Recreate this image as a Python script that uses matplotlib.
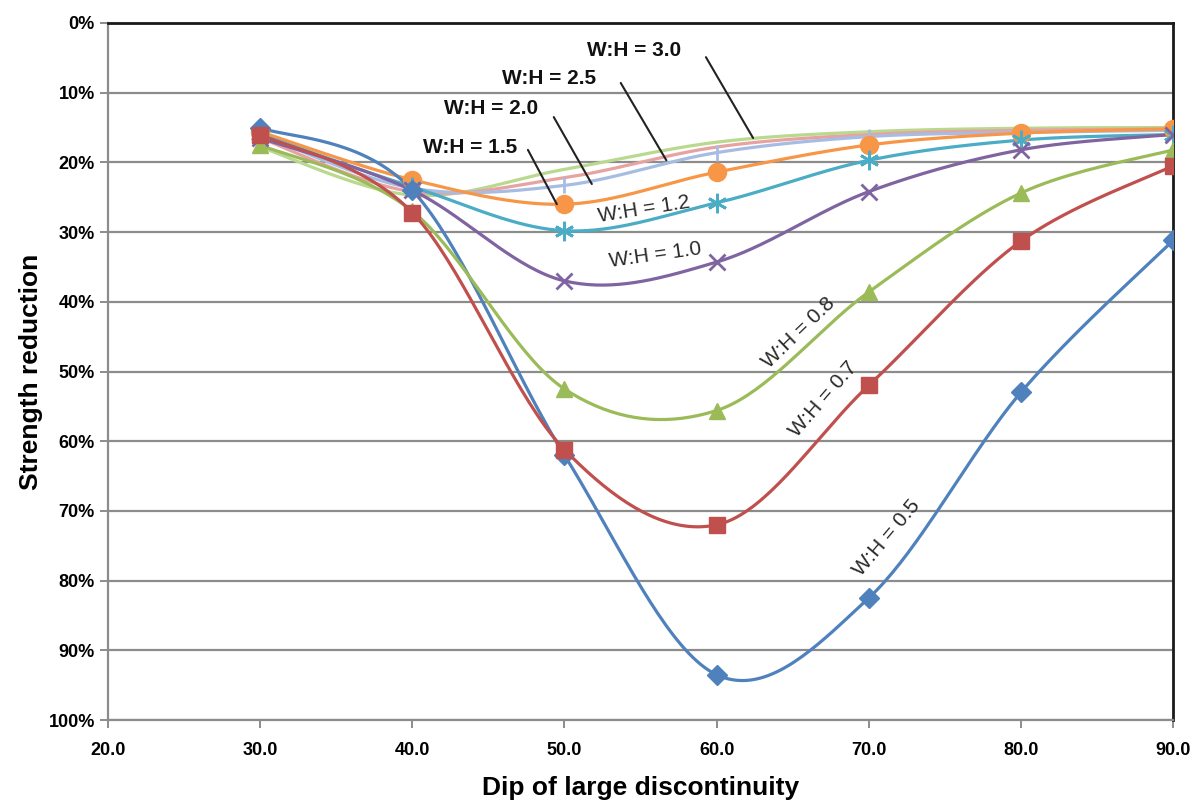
import numpy as np
import matplotlib
matplotlib.use("Agg")
import matplotlib.pyplot as plt
from matplotlib import font_manager

dips = [30, 40, 50, 60, 70, 80, 90]
wh_05 = [15.0, 24.0, 62.0, 93.5, 82.5, 53.0, 31.2]
wh_07 = [16.0, 27.2, 61.2, 72.0, 52.0, 31.3, 20.5]
wh_08 = [17.5, 27.0, 52.5, 55.6, 38.6, 24.4, 18.2]
wh_10 = [16.5, 24.0, 37.0, 34.3, 24.2, 18.2, 16.0]
wh_12 = [16.0, 23.5, 29.8, 25.8, 19.7, 16.8, 16.0]
wh_15 = [15.6, 22.5, 26.0, 21.4, 17.5, 15.8, 15.2]
wh_20 = [16.0, 23.7, 23.3, 18.6, 16.3, 15.7, 15.4]
wh_25 = [16.5, 24.2, 22.2, 17.8, 16.0, 15.4, 15.2]
wh_30 = [17.8, 24.7, 21.0, 17.1, 15.6, 15.1, 15.0]

y_ticks = [0, 10, 20, 30, 40, 50, 60, 70, 80, 90, 100]
x_ticks = [20, 30, 40, 50, 60, 70, 80, 90]

names = [f.name for f in font_manager.fontManager.ttflist]
fam = "Liberation Sans Narrow" if "Liberation Sans Narrow" in names else "Liberation Sans"
plt.rcParams['font.family'] = [fam, 'DejaVu Sans']

def smooth(xs, ys, n=40):
    xs = np.asarray(xs, float); ys = np.asarray(ys, float)
    P = np.column_stack([xs, ys])
    out = []
    for i in range(len(P) - 1):
        p0 = P[i - 1] if i > 0 else P[i]
        p1 = P[i]; p2 = P[i + 1]
        p3 = P[i + 2] if i + 2 < len(P) else P[i + 1]
        c1 = p1 + (p2 - p0) / 6.0
        c2 = p2 - (p3 - p1) / 6.0
        t = np.linspace(0, 1, n)[:, None]
        seg = (1 - t) ** 3 * p1 + 3 * (1 - t) ** 2 * t * c1 + 3 * (1 - t) * t ** 2 * c2 + t ** 3 * p2
        out.append(seg if i == 0 else seg[1:])
    s = np.vstack(out)
    return s[:, 0], s[:, 1]

fig = plt.figure(figsize=(12, 8.07), dpi=100)
ax = fig.add_axes([0.09, 0.1078, 0.8875, 0.8637])

series = [
    (wh_30, '#B9D98E', None, 8),
    (wh_25, '#E6A3A1', None, 8),
    (wh_20, '#A7BCE3', '|', 12),
    (wh_15, '#F79646', 'o', 13),
    (wh_12, '#4BACC6', (6, 2, 0), 14),
    (wh_10, '#8064A2', 'x', 12),
    (wh_05, '#4F81BD', 'D', 10),
    (wh_08, '#9BBB59', '^', 12),
    (wh_07, '#C0504D', 's', 12),
]
for vals, col, mk, ms in series:
    sx, sy = smooth(dips, vals)
    ax.plot(sx, sy, color=col, lw=2.3, zorder=3)
    if mk is not None:
        ax.plot(dips, vals, linestyle='none', marker=mk, color=col, markersize=ms,
                markeredgewidth=2 if mk in ('x', '|', (6, 2, 0)) else 1, zorder=4)

ax.set_xlim(20, 90)
ax.set_ylim(100, 0)
ax.set_yticks(y_ticks)
ax.set_yticklabels([f"{v}%" for v in y_ticks])
ax.set_xticks(x_ticks)
ax.set_xticklabels([f"{v:.1f}" for v in x_ticks])
ax.yaxis.grid(True, color='#8C8C8C', lw=1.6)
ax.set_axisbelow(True)
for s in ('left', 'bottom'):
    ax.spines[s].set_color('#8C8C8C'); ax.spines[s].set_linewidth(1.6)
for s in ('top', 'right'):
    ax.spines[s].set_color('#1A1A1A'); ax.spines[s].set_linewidth(2)
ax.tick_params(axis='both', direction='out', color='#8C8C8C', width=1.4, length=6,
               labelsize=13)
for lab in ax.get_xticklabels() + ax.get_yticklabels():
    lab.set_fontweight('bold')
ax.tick_params(axis='x', pad=10)

ax.set_xlabel("Dip of large discontinuity", fontsize=19, fontweight='bold', labelpad=12)
ax.set_ylabel("Strength reduction", fontsize=19, fontweight='bold', labelpad=4)

lbl = dict(fontsize=15, fontweight='bold', color='#111111', zorder=6)
leaders = [
    ("W:H = 3.0", 54.6, 3.9, (59.3, 4.9), (62.4, 16.5)),
    ("W:H = 2.5", 49.0, 7.9, (53.7, 8.6), (56.7, 19.7)),
    ("W:H = 2.0", 45.2, 12.2, (49.3, 13.5), (51.8, 23.1)),
    ("W:H = 1.5", 43.8, 17.9, (47.6, 18.2), (49.5, 26.0)),
]
for txt, tx, ty, p0, p1 in leaders:
    ax.text(tx, ty, txt, ha='center', va='center', **lbl)
    ax.annotate("", xy=p1, xytext=p0,
                arrowprops=dict(arrowstyle='-', color='#222222', lw=1.5, shrinkA=0, shrinkB=0),
                zorder=6)

rl = dict(fontsize=15, color='#2A2A2A', zorder=6, ha='center', va='center',
          rotation_mode='anchor')
ax.text(55.2, 26.8, "W:H = 1.2", rotation=9, **rl)
ax.text(56.0, 33.3, "W:H = 1.0", rotation=8, **rl)
ax.text(65.4, 44.5, "W:H = 0.8", rotation=44, **rl)
ax.text(67.0, 54.0, "W:H = 0.7", rotation=49, **rl)
ax.text(71.2, 73.8, "W:H = 0.5", rotation=50, **rl)

fig.savefig("out.png", dpi=100)
